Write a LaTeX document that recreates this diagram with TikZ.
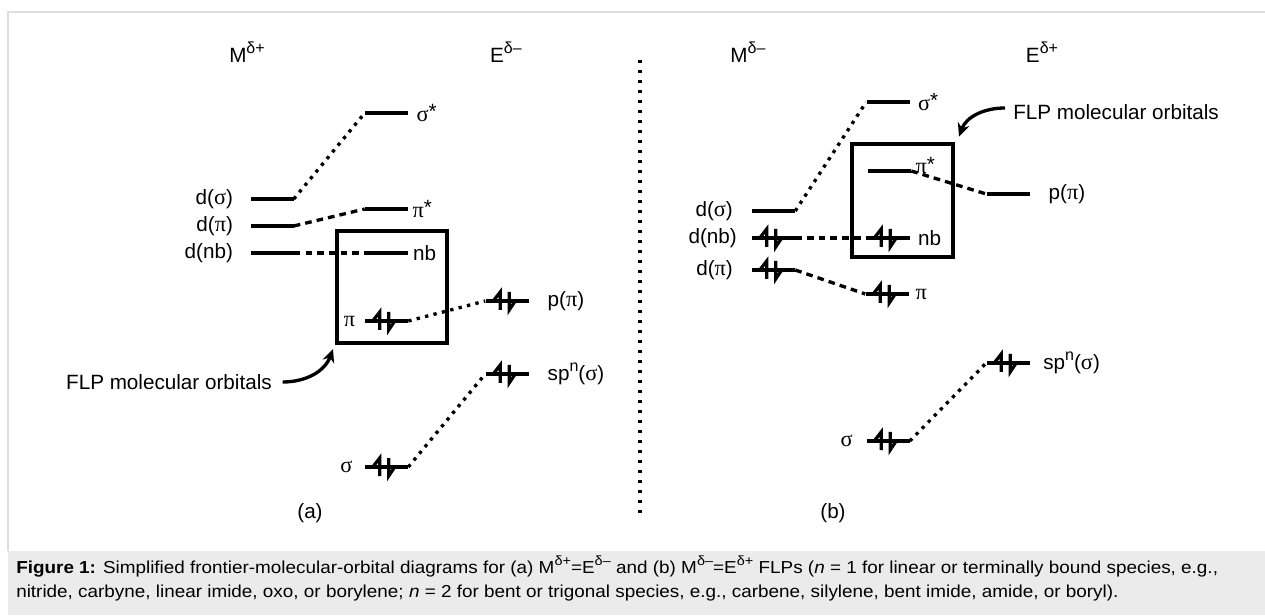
\documentclass[tikz,border=0pt]{standalone}
\usepackage{fontspec}
\setmainfont{Liberation Sans}
\newfontfamily\grk{Liberation Serif}[Scale=1.08]
\newfontfamily\capfont{Liberation Sans}[FakeStretch=1.09]
\usetikzlibrary{positioning,arrows.meta}
\definecolor{frameGray}{HTML}{DEDEDE}
\definecolor{capGray}{HTML}{EBEBEB}
\newcommand{\gr}[1]{{\grk #1}}
\newcommand{\sups}[2][12]{\raisebox{0.42em}{\fontsize{#1}{#1}\selectfont #2}}
\newcommand{\starred}{\raisebox{0.12em}{*}}
% electron pair on a level node
\newcommand{\epair}[1]{%
  \draw[spin,shift={(#1.west)}] (15,-9) -- (15,9) -- (8,0);
  \draw[spin,shift={(#1.west)}] (24,9) -- (24,-9) -- (30,0);}
\tikzset{
  level/.style={fill=black,inner sep=0pt,minimum width=32.25pt,minimum height=2.6pt},
  spin/.style={line width=2.4pt},
  orblabel/.style={inner sep=0pt,font=\fontsize{15.5}{18}\selectfont},
  dotline/.style={line width=2.5pt,dash pattern=on 2.5pt off 4pt},
  dashline/.style={line width=2.5pt,dash pattern=on 5pt off 3.8pt},
  mobox/.style={draw,line width=3pt,inner sep=0pt},
  flp/.style={line width=2.5pt,-{Stealth[length=10pt,width=9pt]}},
  divider/.style={line width=2.5pt,dash pattern=on 2.5pt off 5pt},
  capnode/.style={inner sep=0pt,align=left,font=\capfont\fontsize{13}{18}\selectfont}
}

\begin{document}
\begin{tikzpicture}[x=0.75pt,y=0.75pt]
  \useasboundingbox (0,0) rectangle (1265,615);
  % frame and caption panel
  \fill[capGray] (8,0) rectangle (1265,64);
  \draw[frameGray,line width=1.4pt] (1265,603) -| (8,64);

  % (a) M(d+)=E(d-)
  \node[orblabel] (ma) at (247,563) {M\sups{δ+}};
  \node[orblabel] (ea) at (506,563) {E\sups{δ–}};

  \node[level] (dsa) at (272,416) {};
  \node[level] (dpa) at (272,389) {};
  \node[level] (dnba) at (272,362) {};
  \node[level] (ssta) at (386.5,502) {};
  \node[level] (psta) at (386.5,406) {};
  \node[level] (nba) at (386.5,362) {};
  \node[level] (pia) at (386.5,294) {};
  \node[level] (siga) at (386.5,148) {};
  \node[level] (ppia) at (507,314) {};
  \node[level] (spna) at (507,241) {};

  \node[orblabel,left=12.75pt of dsa] (ldsa) {d(\gr{σ})};
  \node[orblabel,left=12.75pt of dpa] (ldpa) {d(\gr{π})};
  \node[orblabel,left=12.75pt of dnba] (ldnba) {d(nb)};
  \node[orblabel,right=6pt of ssta] (lssta) {\gr{σ}\starred};
  \node[orblabel,right=3pt of psta] (lpsta) {\gr{π}\starred};
  \node[orblabel,right=3.5pt of nba] (lnba) {nb};
  \node[orblabel,left=7pt of pia] (lpia) {\gr{π}};
  \node[orblabel,left=9pt of siga] (lsiga) {\gr{σ}};
  \node[orblabel,right=14pt of ppia] (lppia) {p(\gr{π})};
  \node[orblabel,right=14pt of spna] (lspna) {sp\sups{n}(\gr{σ})};

  \node[mobox,minimum width=82.5pt,minimum height=84pt] (boxa) at (392,328) {};

  \draw[dotline] (dsa.east) -- (ssta.west);
  \draw[dashline] (dpa.east) -- (psta.west);
  \draw[dashline] (dnba.east) -- (nba.west);
  \draw[dotline] (pia.east) -- (ppia.west);
  \draw[dotline] (siga.east) -- (spna.west);

  \epair{pia} \epair{siga} \epair{ppia} \epair{spna}

  \node[orblabel,anchor=east] (flpa) at (272,233) {FLP molecular orbitals};
  \draw[flp] ([xshift=8pt]flpa.east) to[out=0,in=-110] ([shift={(-1.5pt,-3pt)}]boxa.south west);

  \node[orblabel] (taga) at (310,102) {(a)};

  % divider
  \coordinate (divtop) at (640,555);
  \coordinate (divbot) at (640,100);
  \draw[divider] (divtop) -- (divbot);

  % (b) M(d-)=E(d+)
  \node[orblabel] (mb) at (748,563) {M\sups{δ–}};
  \node[orblabel] (eb) at (1042,563) {E\sups{δ+}};

  \node[level] (dsb) at (773.5,404) {};
  \node[level] (dnbb) at (773.5,377) {};
  \node[level] (dpb) at (773.5,345) {};
  \node[level] (sstb) at (888,513) {};
  \node[level] (pstb) at (889.5,444) {};
  \node[level] (nbb) at (888,377) {};
  \node[level] (pib) at (887,321) {};
  \node[level] (sigb) at (888,174) {};
  \node[level] (ppib) at (1008,421) {};
  \node[level] (spnb) at (1008,252) {};

  \node[orblabel,left=14pt of dsb] (ldsb) {d(\gr{σ})};
  \node[orblabel,left=11pt of dnbb] (ldnbb) {d(nb)};
  \node[orblabel,left=14pt of dpb] (ldpb) {d(\gr{π})};
  \node[orblabel,right=6pt of sstb] (lsstb) {\gr{σ}\starred};
  \node[orblabel,right=3pt of pstb,yshift=4pt] (lpstb) {\gr{π}\starred};
  \node[orblabel,right=6pt of nbb] (lnbb) {nb};
  \node[orblabel,right=5pt of pib] (lpib) {\gr{π}};
  \node[orblabel,left=10pt of sigb] (lsigb) {\gr{σ}};
  \node[orblabel,right=14pt of ppib] (lppib) {p(\gr{π})};
  \node[orblabel,right=10pt of spnb] (lspnb) {sp\sups{n}(\gr{σ})};

  \node[mobox,minimum width=75.75pt,minimum height=84.75pt] (boxb) at (902.5,414.5) {};

  \draw[dotline] (dsb.east) -- (sstb.west);
  \draw[dashline] (pstb.east) -- (ppib.west);
  \draw[dashline] (dnbb.east) -- (nbb.west);
  \draw[dashline] (dpb.east) -- (pib.west);
  \draw[dotline] (sigb.east) -- (spnb.west);

  \epair{dnbb} \epair{dpb} \epair{nbb} \epair{pib} \epair{sigb} \epair{spnb}

  \node[orblabel,anchor=west] (flpb) at (1013,503) {FLP molecular orbitals};
  \draw[flp] ([shift={(-6pt,3pt)}]flpb.west) to[out=180,in=70] ([shift={(3pt,4pt)}]boxb.north east);

  \node[orblabel] (tagb) at (833,102) {(b)};

  % caption
  \node[capnode,anchor=north west] (cap) at (16,59) {\textbf{Figure 1:} Simplified frontier-molecular-orbital diagrams for (a) M\sups[10]{δ+}=E\sups[10]{δ–} and (b) M\sups[10]{δ–}=E\sups[10]{δ+} FLPs (\textit{n} = 1 for linear or terminally bound species, e.g.,\\
    nitride, carbyne, linear imide, oxo, or borylene; \textit{n} = 2 for bent or trigonal species, e.g., carbene, silylene, bent imide, amide, or boryl).};
\end{tikzpicture}
\end{document}
